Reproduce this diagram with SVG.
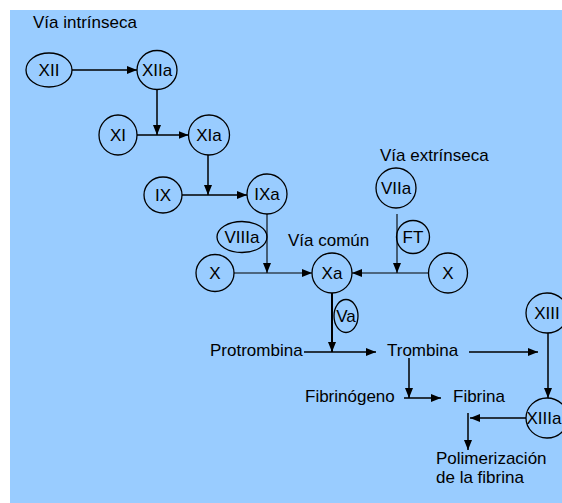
<svg xmlns="http://www.w3.org/2000/svg" width="562" height="503" viewBox="0 0 562 503">
<style>
  text { font-family: "Liberation Sans", Arial, sans-serif; font-size: 17px; fill: #000; }
  .lbl { text-anchor: middle; }
  .node ellipse { fill: none; stroke: #000; stroke-width: 1.3; }
  .conn path { fill: none; stroke: #000; stroke-width: 1.5; marker-end: url(#ah); }
  .conn path.thin { stroke-width: 1.1; }
  .conn path.thick { stroke-width: 2; }
</style>
<defs>
  <marker id="ah" markerUnits="userSpaceOnUse" markerWidth="10" markerHeight="10" viewBox="0 0 10 10" refX="10" refY="5" orient="auto">
    <path d="M0,1 L10,5 L0,9 Z" fill="#000"/>
  </marker>
</defs>
<rect x="10" y="10" width="552" height="493" fill="#99CCFF"/>

<text x="33" y="28">Vía intrínseca</text>
<text x="380" y="161">Vía extrínseca</text>
<text x="288" y="246">Vía común</text>

<g id="XII" class="node"><ellipse cx="49" cy="70" rx="23" ry="17"/><text class="lbl" x="49" y="76">XII</text></g>
<g id="XIIa" class="node"><ellipse cx="157" cy="70" rx="20" ry="19.5"/><text class="lbl" x="157" y="76">XIIa</text></g>
<g id="XI" class="node"><ellipse cx="118" cy="135" rx="19" ry="20"/><text class="lbl" x="118" y="141">XI</text></g>
<g id="XIa" class="node"><ellipse cx="209" cy="135" rx="20.5" ry="20"/><text class="lbl" x="209" y="141">XIa</text></g>
<g id="IX" class="node"><ellipse cx="163" cy="195" rx="19" ry="18"/><text class="lbl" x="163" y="201">IX</text></g>
<g id="IXa" class="node"><ellipse cx="267" cy="194" rx="20" ry="20"/><text class="lbl" x="267" y="200">IXa</text></g>
<g id="VIIIa" class="node"><ellipse cx="242" cy="237" rx="25" ry="15.5"/><text class="lbl" x="242" y="243">VIIIa</text></g>
<g id="VIIa" class="node"><ellipse cx="396" cy="188" rx="20" ry="20"/><text class="lbl" x="396" y="194">VIIa</text></g>
<g id="FT" class="node"><ellipse cx="413" cy="237" rx="16.5" ry="16.5"/><text class="lbl" x="413" y="243">FT</text></g>
<g id="X1" class="node"><ellipse cx="215" cy="273" rx="19" ry="18.5"/><text class="lbl" x="215" y="279">X</text></g>
<g id="Xa" class="node"><ellipse cx="332" cy="273" rx="20" ry="20"/><text class="lbl" x="332" y="279">Xa</text></g>
<g id="X2" class="node"><ellipse cx="448" cy="273" rx="19.5" ry="20"/><text class="lbl" x="448" y="279">X</text></g>
<g id="Va" class="node"><ellipse cx="346" cy="316" rx="12" ry="16.5"/><text class="lbl" x="346" y="322">Va</text></g>
<g id="Protrombina" class="node"><text x="210" y="356">Protrombina</text></g>
<g id="Trombina" class="node"><text x="387" y="356">Trombina</text></g>
<g id="XIII" class="node"><ellipse cx="547" cy="313" rx="21" ry="20"/><text class="lbl" x="547" y="319">XIII</text></g>
<g id="Fibrinogeno" class="node"><text x="305" y="402">Fibrinógeno</text></g>
<g id="Fibrina" class="node"><text x="453" y="402">Fibrina</text></g>
<g id="XIIIa" class="node"><ellipse cx="547" cy="418" rx="21" ry="20"/><text class="lbl" x="544" y="424">XIIIa</text></g>
<g id="Polimerizacion" class="node"><text x="436" y="464">Polimerización</text><text x="436" y="483">de la fibrina</text></g>

<g id="connectors" class="conn">
  <path d="M72,70 H137"/>
  <path d="M157,89.5 V135"/>
  <path d="M137,135 H188.5"/>
  <path d="M208,155 V195"/>
  <path d="M182,195 H247"/>
  <path class="thin" d="M267,214 V273"/>
  <path class="thin" d="M234,273 H312"/>
  <path class="thin" d="M397,214 V273"/>
  <path class="thin" d="M428.5,273 H352"/>
  <path class="thick" d="M332,293 V352"/>
  <path d="M304,352 H376"/>
  <path d="M469,352 H538"/>
  <path d="M548,333 V398"/>
  <path d="M409,358 V398"/>
  <path d="M404,398 H441"/>
  <path d="M526,418 H470"/>
  <path d="M468,413 V450"/>
</g>
</svg>
